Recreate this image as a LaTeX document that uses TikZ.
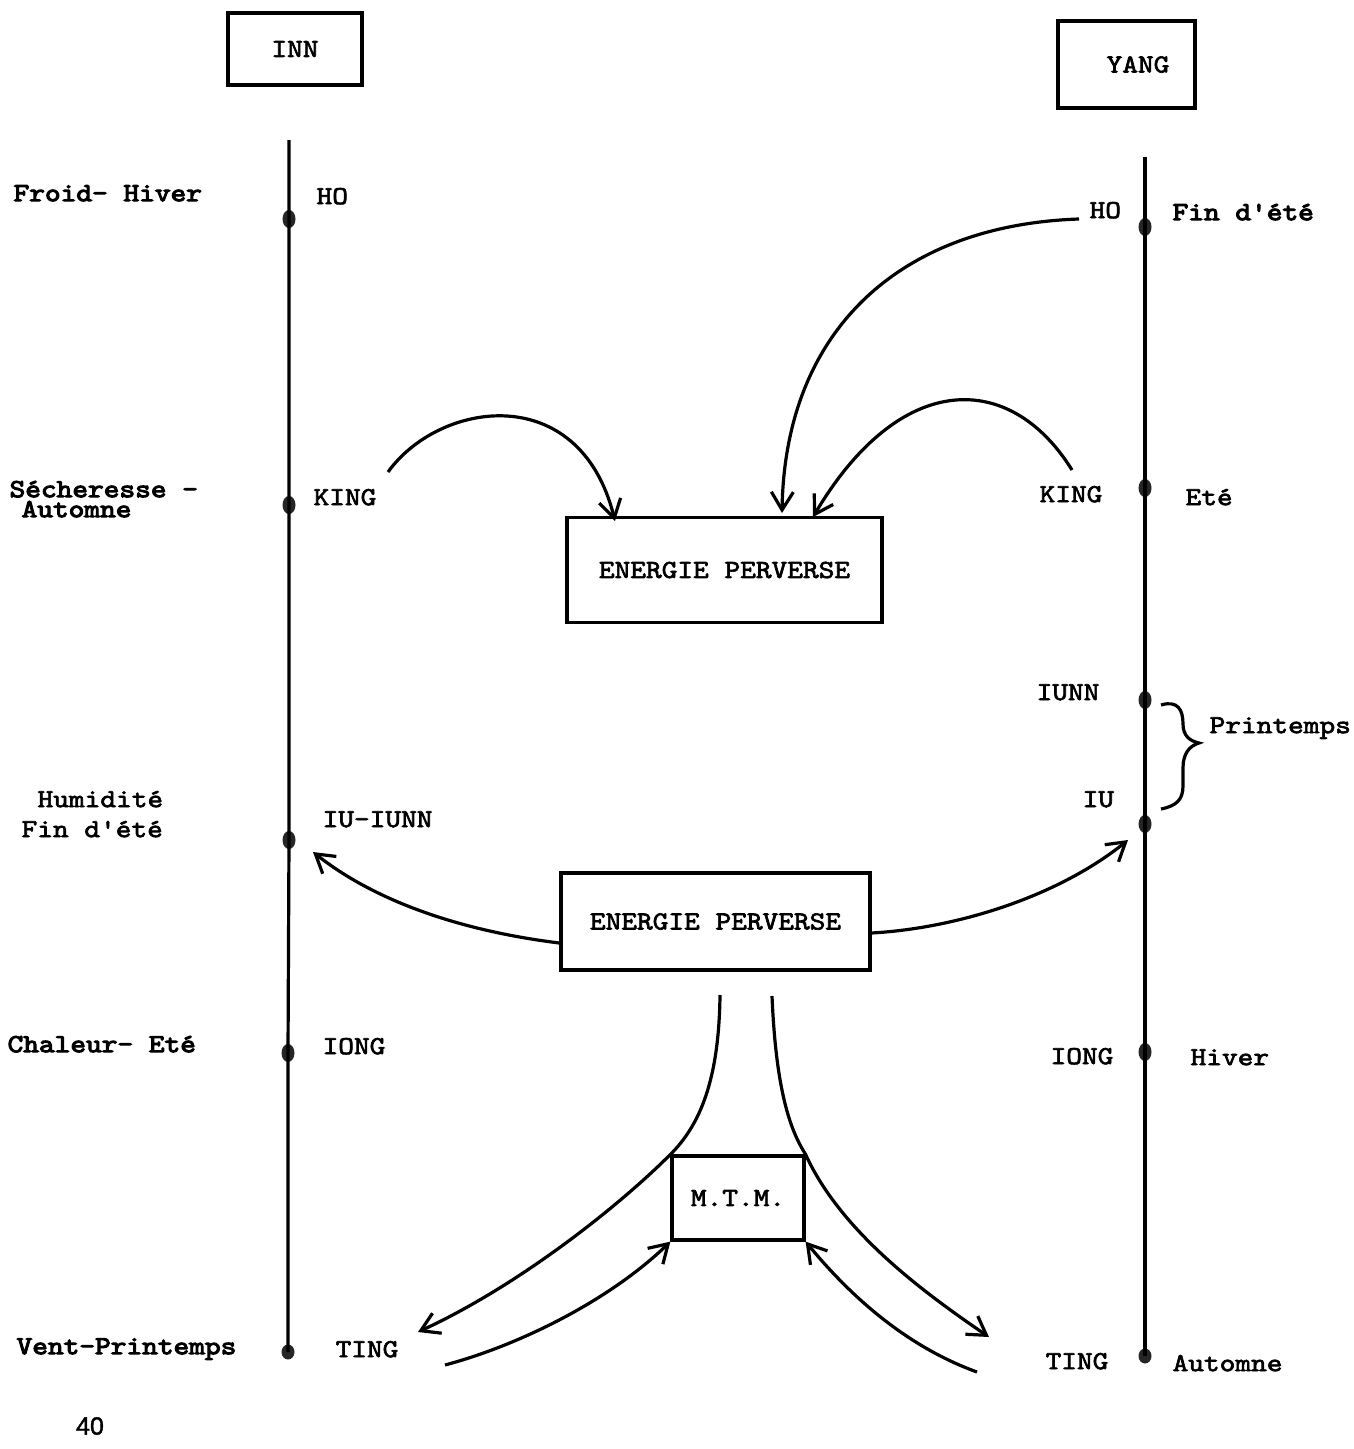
\documentclass[tikz,border=0pt]{standalone}
\usepackage{fontspec}
\newfontfamily\tw[FakeStretch=1.15,FakeBold=2.5]{lmmono10-regular.otf}
\newfontfamily\twb[FakeStretch=1.15,FakeBold=4]{lmmono10-regular.otf}
\newfontfamily\pgnum[FakeBold=1.5]{Liberation Sans}
\usetikzlibrary{arrows.meta,shapes.geometric}
\begin{document}
\begin{tikzpicture}[x=1pt,y=-1pt,line width=3.2pt,
  box/.style={draw,line width=3.2pt,inner sep=0pt,font=\tw\fontsize{26}{30}\selectfont},
  lbl/.style={inner sep=0pt,anchor=mid west,font=\tw\fontsize{26}{30}\selectfont},
  blbl/.style={inner sep=0pt,anchor=mid west,font=\twb\fontsize{26}{30}\selectfont},
  pt/.style={ellipse,fill=black!85,inner sep=0pt,minimum width=13pt,minimum height=18pt},
  arr/.style={-{Straight Barb[length=18pt,width=22pt]}},
  curve/.style={line width=3.2pt}]
\useasboundingbox (0,0) rectangle (1354,1449);

% title boxes
\node[box,minimum width=134pt,minimum height=72pt] (inn) at (295,49) {INN};
\node[box,minimum width=137pt,minimum height=87pt] (yang) at (1126.5,64.5) {\hspace*{23pt}YANG};

% axes
\coordinate (ltop) at (289,140);
\coordinate (rtop) at (1145,157);
\node[pt] (lho) at (289,219) {};
\node[pt] (lking) at (289,505) {};
\node[pt] (liu) at (289,840) {};
\node[pt] (liong) at (288,1053) {};
\node[pt,minimum height=15pt] (lting) at (288,1352) {};
\node[pt] (rho) at (1145,227) {};
\node[pt] (rking) at (1145,488) {};
\node[pt] (riunn) at (1145,700) {};
\node[pt] (riu) at (1145,824) {};
\node[pt] (riong) at (1145,1052) {};
\node[pt,minimum height=15pt] (rting) at (1145,1356) {};
\draw (ltop) -- (lho.center) -- (lking.center) -- (liu.center) -- (liong.center) -- (lting.center);
\draw (rtop) -- (rho.center) -- (rking.center) -- (riunn.center) -- (riu.center) -- (riong.center) -- (rting.center);

% left outer labels
\node[blbl] (froid) at (12,199) {Froid- Hiver};
\node[blbl] (sech) at (8,495) {Sécheresse -};
\node[blbl] (aut1) at (20,515) {Automne};
\node[lbl] (humi) at (36,805) {Humidité};
\node[lbl] (fin1) at (20,835) {Fin d'été};
\node[blbl] (chal) at (6,1050) {Chaleur- Eté};
\node[blbl] (vent) at (15,1352) {Vent-Printemps};
\node[inner sep=0pt,font=\pgnum\fontsize{25}{28}\selectfont] (pg) at (90,1426) {40};

% left inner labels
\node[lbl] (lhot) at (315,202) {HO};
\node[lbl] (lkingt) at (312,503) {KING};
\node[lbl] (liut) at (321,825) {IU-IUNN};
\node[lbl] (liongt) at (321,1052) {IONG};
\node[lbl] (ltingt) at (334,1355) {TING};

% right labels
\node[lbl] (rhot) at (1088,216) {HO};
\node[blbl] (fin2) at (1171,218) {Fin d'été};
\node[lbl] (rkingt) at (1038,500) {KING};
\node[lbl] (ete) at (1184,503) {Eté};
\node[lbl] (riunnt) at (1035,698) {IUNN};
\node[lbl] (riut) at (1081,805) {IU};
\node[lbl] (print) at (1208,731) {Printemps};
\node[lbl] (riongt) at (1049,1062) {IONG};
\node[lbl] (hiver) at (1189,1063) {Hiver};
\node[lbl] (rtingt) at (1044,1367) {TING};
\node[lbl] (autom) at (1171,1369) {Automne};

% brace
\draw[line width=3.2pt] (1161,705) .. controls (1178,700) and (1183,710) .. (1183,724)
  .. controls (1183,736) and (1190,741) .. (1199,743)
  .. controls (1189,746) and (1183,754) .. (1183,768) -- (1183,786)
  .. controls (1183,800) and (1176,806) .. (1161,809);

% central boxes
\node[box,minimum width=315pt,minimum height=105pt] (ep1) at (724.5,570) {ENERGIE PERVERSE};
\node[box,minimum width=309pt,minimum height=97pt] (ep2) at (715.5,921.5) {ENERGIE PERVERSE};
\node[box,minimum width=132pt,minimum height=84pt] (mtm) at (738,1198) {M.T.M.};

% arrows into upper box
\coordinate (s1) at (388,472);
\coordinate (t1) at (615,521);
\draw[curve,arr] (s1) .. controls (440,400) and (580,380) .. (t1);
\coordinate (s2) at (1079,219);
\coordinate (t2) at (782,513);
\draw[curve,arr] (s2) .. controls (900,225) and (785,330) .. (t2);
\coordinate (s3) at (1072,470);
\coordinate (t3) at (813,517);
\draw[curve,arr] (s3) .. controls (1010,370) and (900,370) .. (t3);

% arrows out of lower box
\coordinate (t4) at (313,852);
\draw[curve,arr] (ep2.west |- 0,943) .. controls (470,932) and (380,905) .. (t4);
\coordinate (t5) at (1128,840);
\draw[curve,arr] (ep2.east |- 0,933) .. controls (960,928) and (1060,895) .. (t5);

% funnel
\coordinate (f1) at (720,995);
\coordinate (f2) at (772,996);
\coordinate (t6) at (418,1332);
\coordinate (t7) at (989,1337);
\draw[curve,arr] (f1) .. controls (719,1080) and (700,1125) .. (mtm.north west)
  .. controls (620,1205) and (520,1285) .. (t6);
\draw[curve,arr] (f2) .. controls (776,1090) and (790,1130) .. (mtm.north east)
  .. controls (840,1230) and (920,1290) .. (t7);

% arrows from TING to MTM
\coordinate (s8) at (445,1365);
\draw[curve,arr] (s8) .. controls (520,1345) and (610,1300) .. (mtm.south west);
\coordinate (s9) at (977,1372);
\draw[curve,arr] (s9) .. controls (930,1355) and (870,1320) .. (mtm.south east);
\end{tikzpicture}
\end{document}
